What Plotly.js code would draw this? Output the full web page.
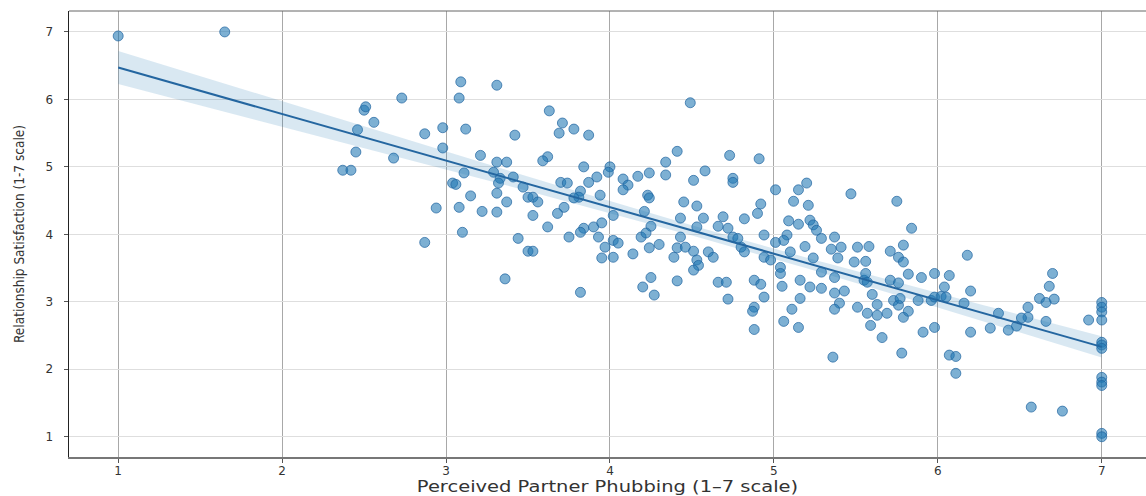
<!DOCTYPE html>
<html>
<head>
<meta charset="utf-8">
<script src="https://cdn.plot.ly/plotly-3.0.1.min.js"></script>
<style>
html,body{margin:0;padding:0;background:#fff;}
#chart{width:1146px;height:496px;}
#chart .g-xtitle text{transform-box:fill-box;transform-origin:center;transform:scaleX(1.3);}
</style>
</head>
<body>
<div id="chart"></div>
<script>
// Perceived partner phubbing (x) and relationship satisfaction (y)
const phubbing = [
1.00,1.65,2.37,2.42,2.45,2.46,2.50,2.51,2.56,2.68,2.73,2.87,2.87,2.94,2.98,2.98,3.04,3.06,3.08,3.09,
3.08,3.10,3.12,3.11,3.15,3.21,3.22,3.31,3.31,3.31,3.31,3.29,3.33,3.32,3.36,3.37,3.41,3.37,3.42,3.44,
3.47,3.50,3.50,3.63,3.71,3.78,3.69,3.87,3.62,3.59,3.84,3.92,3.87,3.70,3.82,3.53,3.56,3.72,3.68,3.53,
3.84,3.90,3.62,3.75,3.82,3.93,3.53,3.82,3.74,3.81,3.78,4.00,3.99,4.17,4.24,4.34,4.34,4.41,4.49,4.58,
4.73,4.08,4.11,4.08,4.51,4.75,4.75,3.94,4.23,4.24,4.45,4.53,4.02,4.21,4.43,4.57,4.69,3.95,4.25,4.53,
4.66,4.72,4.02,4.05,3.97,4.19,4.22,4.43,4.30,4.24,4.41,4.46,4.51,4.60,4.63,3.95,4.02,4.14,4.39,4.53,
4.54,4.51,4.25,4.20,4.27,4.41,4.66,4.71,4.72,4.75,4.80,4.82,4.91,5.01,5.15,5.20,5.47,5.75,5.12,5.21,
4.92,4.90,4.82,5.09,5.15,5.22,5.24,5.26,5.84,4.94,5.08,4.78,5.01,5.06,5.29,5.37,5.19,5.10,5.35,5.41,
5.51,5.58,5.71,5.79,4.94,4.98,5.24,5.39,5.49,5.56,5.76,5.79,5.04,4.88,4.92,4.94,5.05,5.16,5.22,5.29,
5.16,5.37,5.43,5.40,5.37,5.60,5.71,5.76,5.82,5.63,5.51,5.73,5.76,4.88,4.87,5.11,5.57,5.63,5.69,5.79,
5.82,5.06,5.15,4.88,5.59,5.66,5.91,5.36,5.78,5.04,5.90,5.55,5.88,5.96,5.29,5.56,5.57,5.37,5.77,5.98,
6.07,6.18,6.04,6.20,5.98,6.02,6.05,6.16,6.70,6.68,6.71,6.62,6.66,6.55,6.37,6.55,6.51,6.66,6.32,6.43,
6.48,5.98,6.20,6.92,7.00,7.00,7.00,7.00,7.00,7.00,7.00,6.07,6.11,6.11,6.57,6.76,7.00,7.00,7.00,7.00,
7.00
];
const satisfaction = [
6.94,7.00,4.95,4.95,5.22,5.55,5.84,5.89,5.66,5.13,6.02,5.49,3.88,4.39,5.58,5.28,4.76,4.74,6.02,6.26,
4.40,4.03,5.56,4.91,4.57,5.17,4.34,6.21,5.07,4.33,4.61,4.92,4.83,4.76,3.34,5.07,4.85,4.48,5.47,3.94,
4.70,4.55,3.75,5.83,5.65,5.56,5.50,5.47,5.15,5.09,5.00,4.85,4.77,4.77,4.64,4.55,4.48,4.40,4.31,4.28,
4.09,4.11,4.11,3.96,4.03,3.96,3.75,3.14,4.76,4.55,4.54,5.00,4.92,4.86,4.91,4.88,5.07,5.23,5.95,4.94,
5.17,4.82,4.73,4.66,4.80,4.83,4.77,4.58,4.58,4.54,4.48,4.42,4.28,4.34,4.24,4.24,4.26,4.17,4.12,4.11,
4.12,4.09,3.91,3.87,3.81,3.96,4.02,3.96,3.85,3.80,3.80,3.81,3.75,3.74,3.66,3.65,3.66,3.71,3.66,3.62,
3.54,3.47,3.36,3.22,3.10,3.31,3.29,3.29,3.04,3.96,3.81,3.74,5.12,4.66,4.66,4.76,4.60,4.49,4.49,4.43,
4.45,4.31,4.23,4.20,4.15,4.21,4.14,4.06,4.09,3.99,3.99,3.94,3.88,3.91,3.94,3.96,3.82,3.74,3.78,3.81,
3.81,3.82,3.75,3.84,3.66,3.62,3.65,3.65,3.59,3.60,3.66,3.59,3.51,3.32,3.26,3.07,3.23,3.32,3.22,3.20,
3.05,3.13,3.16,2.98,2.89,3.11,3.32,3.28,3.41,2.96,2.92,3.02,2.95,2.92,2.86,2.89,2.83,2.80,2.83,2.77,
2.86,2.71,2.62,2.59,2.65,2.47,2.55,2.18,2.24,3.42,3.36,3.32,3.02,3.02,3.44,3.42,3.29,3.36,3.05,3.42,
3.39,3.69,3.22,3.16,3.07,3.08,3.07,2.98,3.42,3.23,3.04,3.05,2.99,2.92,2.83,2.77,2.76,2.71,2.61,2.58,
2.64,2.62,2.55,2.73,2.99,2.92,2.85,2.73,2.40,2.36,2.31,2.21,2.19,1.94,1.44,1.38,1.88,1.81,1.76,1.05,
1.00
];
const xTicks = [1, 2, 3, 4, 5, 6, 7];
const yTicks = [1, 2, 3, 4, 5, 6, 7];
const xLabel = 'Perceived Partner Phubbing (1–7 scale)';
const yLabel = 'Relationship Satisfaction (1-7 scale)';

// Ordinary least squares fit with 95% confidence band, computed from the data
const n = Math.min(phubbing.length, satisfaction.length);
const xs = phubbing.slice(0, n), ys = satisfaction.slice(0, n);
const mean = a => a.reduce((s, v) => s + v, 0) / a.length;
const xbar = mean(xs), ybar = mean(ys);
let sxx = 0, sxy = 0;
for (let i = 0; i < n; i++) { sxx += (xs[i]-xbar)**2; sxy += (xs[i]-xbar)*(ys[i]-ybar); }
const slope = sxy / sxx, intercept = ybar - slope * xbar;
let sse = 0;
for (let i = 0; i < n; i++) { sse += (ys[i] - (intercept + slope*xs[i]))**2; }
const se = Math.sqrt(sse / (n - 2));
const tval = 1.97;
const xmin = Math.min(...xs), xmax = Math.max(...xs);
const gx = [], gy = [], lo = [], hi = [];
for (let k = 0; k <= 100; k++) {
  const x = xmin + (xmax - xmin) * k / 100;
  const yhat = intercept + slope * x;
  const h = tval * se * Math.sqrt(1/n + (x - xbar)**2 / sxx);
  gx.push(x); gy.push(yhat); lo.push(yhat - h); hi.push(yhat + h);
}

const traces = [
  {x: xs, y: ys, type: 'scatter', mode: 'markers', hoverinfo: 'skip',
   marker: {size: 10, color: 'rgba(31,119,180,0.58)', line: {color: 'rgba(31,100,160,0.7)', width: 1}}},
  {x: gx, y: lo, type: 'scatter', mode: 'lines', line: {width: 0, color: 'rgba(0,0,0,0)'}, hoverinfo: 'skip'},
  {x: gx, y: hi, type: 'scatter', mode: 'lines', fill: 'tonexty', fillcolor: 'rgba(31,119,180,0.17)',
   line: {width: 0, color: 'rgba(0,0,0,0)'}, hoverinfo: 'skip'},
  {x: gx, y: gy, type: 'scatter', mode: 'lines', line: {color: 'rgb(36,102,160)', width: 2}, hoverinfo: 'skip'}
];

const layout = {
  width: 1146, height: 496,
  margin: {l: 69, r: 0, t: 11, b: 39},
  showlegend: false,
  paper_bgcolor: '#fff', plot_bgcolor: '#fff',
  font: {family: 'DejaVu Sans, sans-serif', color: '#333'},
  xaxis: {
    range: [0.7, 7.27], tickvals: xTicks, ticktext: xTicks.map(String),
    showgrid: true, gridcolor: '#a8a8a8', gridwidth: 1, zeroline: false,
    showline: true, linecolor: '#777', linewidth: 2,
    ticks: 'outside', ticklen: 4, tickcolor: '#555', tickwidth: 1,
    tickfont: {size: 12, color: '#333'}, ticklabelstandoff: -2,
    title: {text: xLabel, font: {size: 15, color: '#333', family: 'DejaVu Sans, sans-serif'}, standoff: 6}
  },
  yaxis: {
    range: [0.7, 7.31], tickvals: yTicks, ticktext: yTicks.map(String),
    showgrid: true, gridcolor: '#dedede', gridwidth: 1, zeroline: false,
    showline: true, linecolor: '#222', linewidth: 1.5,
    ticks: 'outside', ticklen: 4, tickcolor: '#555', tickwidth: 1,
    tickfont: {size: 12, color: '#333'}, ticklabelstandoff: 8,
    title: {text: yLabel, font: {size: 13.5, color: '#333', family: 'Liberation Sans Narrow, DejaVu Sans Condensed, sans-serif'}, standoff: 17}
  },
  shapes: [
    {type: 'line', xref: 'paper', yref: 'paper', x0: 0, x1: 1, y0: 1, y1: 1, line: {color: '#666', width: 1}}
  ]
};

Plotly.newPlot('chart', traces, layout, {displayModeBar: false, staticPlot: true});
</script>
</body>
</html>
